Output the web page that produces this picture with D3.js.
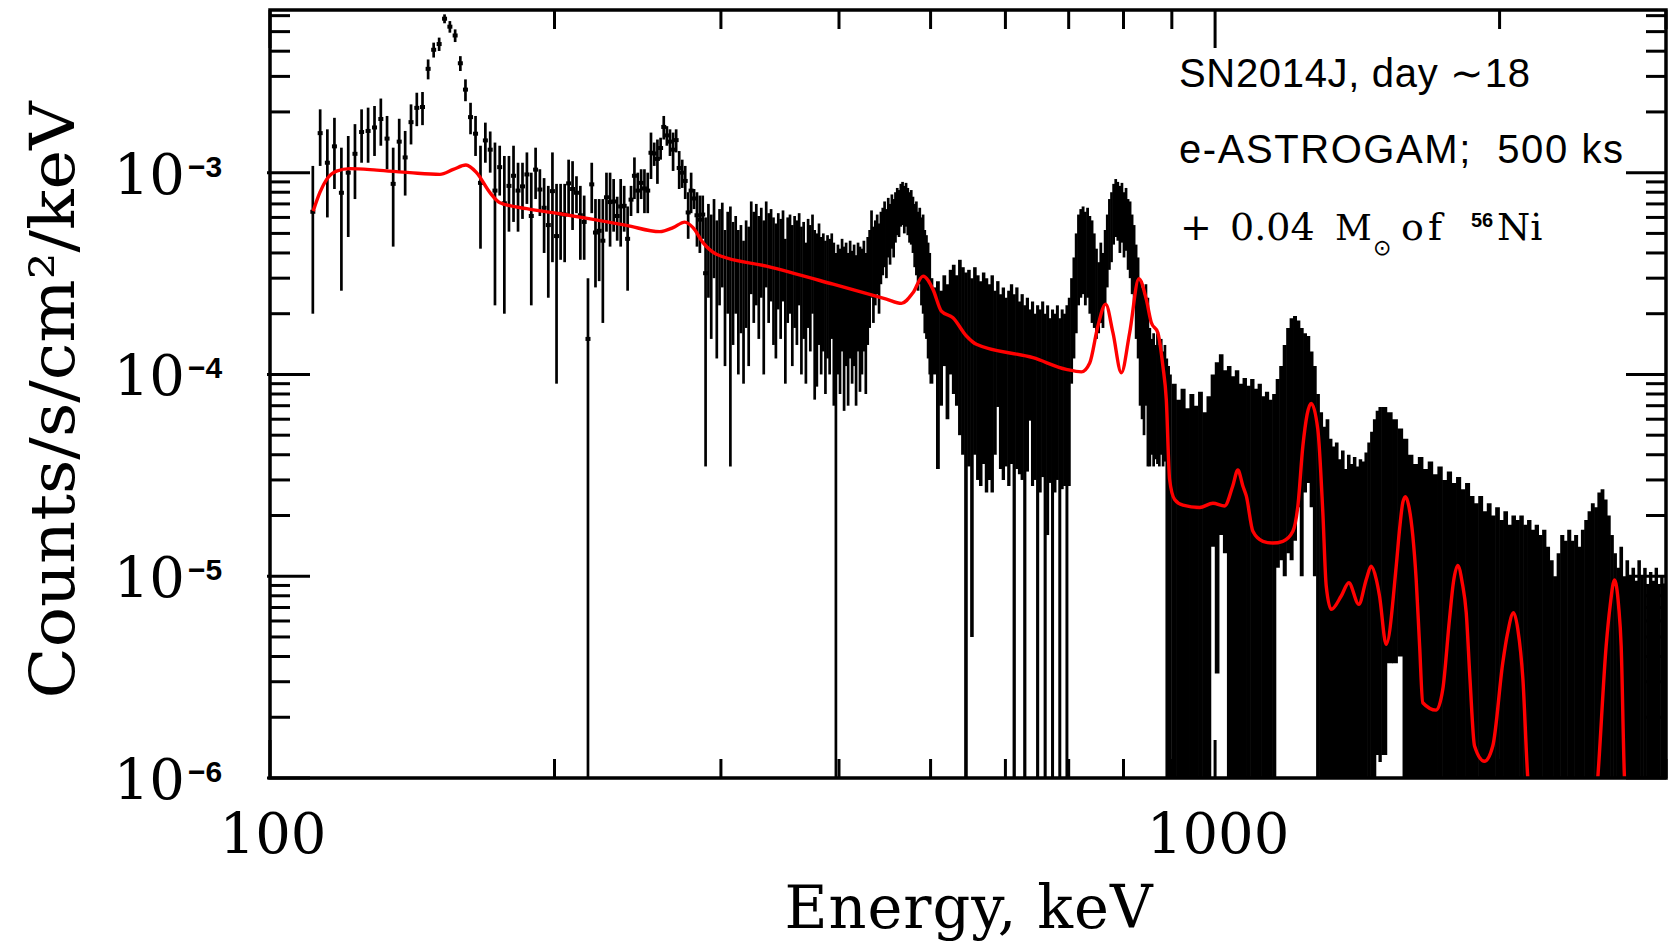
<!DOCTYPE html>
<html lang="en">
<head>
<meta charset="UTF-8">
<title>SN2014J, e-ASTROGAM spectrum</title>
<style>
  html, body { margin: 0; padding: 0; background: #fff; }
  svg { display: block; }
</style>
</head>
<body>
<svg id="chart" width="1671" height="941"></svg>
<script src="https://d3js.org/d3.v7.min.js"></script>
<script>
// simulated counts, rates in units of 1e-5 counts/s/cm2/keV
// each bin: [energy keV, top of error bar, bottom of error bar]
// a bottom of 0 means the bar runs off the bottom of the plot
var binsA = [ // 2 keV bins
  [111,108,20],[113,206,108],[115,164,60],[117,187,83],[119,133,26],[121,152,48],[123,174,74],[125,206,112],
  [127,210,112],[129,214,121],[131,233,136],[133,191,104],[135,133,43],[137,185,100],[139,161,77],[141,218,138],
  [143,249,170],[145,251,172],[147,364,290],[149,441,372],[151,467,401],[153,609,550],[155,564,494],[157,513,444],
  [159,378,319],[161,290,226],[163,222,155],[165,191,121],[167,136,42],[169,177,112],[171,160,100],[173,141,22],
  [175,136,77],[177,121,20],[179,121,51],[181,136,57],[183,112,51],[185,112,59],[187,126,70],[189,100,22],
  [191,133,74],[193,104,61],[195,94,40],[197,86,24],[199,126,36],[201,88,9],[203,88,37],[205,88,36],
  [207,116,61],[209,114,52],[211,96,63],[213,86,37],[215,77,37],[217,30,0],[219,112,63],[221,74,27],
  [223,74,29],[225,74,18],[227,100,51],[229,100,43],[231,93,51],[233,76,46],[235,93,43],[237,86,51],
  [239,68,26],[241,86,61],[243,119,74],[245,100,63],[247,104,74],[249,104,63],[251,100,63],[253,158,93],
  [255,141,108],[257,146,88],[259,149,116],[261,191,146],[263,170,136],[265,164,121],[267,158,102],[269,164,126],
  [271,128,83],[273,116,84],[275,108,74],[277,80,47],[279,100,63],[281,83,66],[283,80,43],[285,77,40],
  [287,77,47],[289,60,3.5]
];
var binsB = [ // 2 keV bins
  [291,70,24],[293,62,15],[295,74,30],[297,58,12],[299,66,22],[301,71,27],[303,52,11],[305,64,20],[307,68,3.5],
  [309,57,14],[311,61,20],[313,52,10],[315,55,16],[317,46,9],[319,58,17],[321,54,11],[323,72,25],[325,64,18],
  [327,70,22],[329,61,15],[331,67,24],[333,58,10],[335,72,27],[337,63,18],[339,66,23],[341,60,14],[343,56,12],
  [345,63,21],[347,59,15],[349,65,23],[351,47,9],[353,60,18],[355,62,20],[357,55,11],[359,61,17],[361,58,14],
  [363,63,22],[365,54,10],[367,57,15],[369,45,9],[371,59,17],[373,55,13],[375,62,20],[377,52,7.5],[379,50,8.7],
  [381,56,14],[383,48,10],[385,50,13],[387,46,8],[389,49,12],[391,47,10],[393,50,15],[395,45,7],[397,40,0],
  [399,44,10],[401,42,8],[403,47,13],[405,43,6.6],[407,45,11],[409,40,7],[411,46,12],[413,41,9],[415,44,11],
  [417,39,7],[419,45,13],[421,43,8.2],[423,42,10],[425,46,13],[427,40,8],[429,48,14],[431,52,17],[433,65,24],
  [435,54,18],[437,58,22],[439,62,25],[441,56,20],[443,64,28],[445,67,31],[447,72,34],[449,66,30],[451,75,38],
  [453,70,35],[455,78,42],[457,74,38],[459,80,45],[461,84,49],[463,82,48],[465,88,54],[467,90,55],[469,86,50],
  [471,89,54],[473,84,49],[475,80,45],[477,82,44],[479,76,40],[481,70,34],[483,72,31],[485,64,26],[487,67,28],
  [489,60,22],[491,62,20],[493,52,16],[495,49,15],[497,45,12],[499,40,10]
];
var binsC = [ // 4 keV bins
  [501,30,9],[505,27,10],[509,29,3.4],[513,26,7],[517,31,11],[521,28,6],[525,33,10],[529,35,8],[533,31,7],
  [537,37,5],[541,34,4],[545,32,0],[549,33,3.5],[553,30,0.5],[557,34,4],[561,31,3],[565,29,2.8],[569,32,3.6],
  [573,30,2.6],[577,28,3],[581,31,2.6],[585,26,4],[589,29,6.9],[593,25,3.4],[597,27,3],[601,24,3.5],[605,26,2.8],
  [609,28,3.6],[613,25,0],[617,27,3.4],[621,23,3.2],[625,25,3],[629,22,0],[633,24,3.3],[637,21,5.9],[641,23,2.8],
  [645,20,3],[649,22,0],[653,21,2.6],[657,23,3.1],[661,20,0],[665,22,1.6],[669,19,2.9],[673,21,0],[677,20,2.6],
  [681,22,3],[685,19,0],[689,21,2.7],[693,20,2.8],[697,22,0],[701,24,2.8],[705,30,9],[709,38,12],[713,50,16],
  [717,62,22],[721,66,24],[725,68,25],[729,64,22],[733,67,24],[737,61,20],[741,58,18],[745,50,17],[749,42,15],
  [753,36,16],[757,45,18],[761,40,17],[765,52,22],[769,62,27],[773,74,33],[777,80,36],[781,88,44],[785,93,48],
  [789,90,46],[793,86,40],[797,89,45],[801,80,38],[805,84,41],[809,74,33],[813,72,30],[817,62,25],[821,55,22],
  [825,44,15],[829,38,12],[833,29,7],[837,27,6],[841,25,5],[845,28,7],[849,24,3.5],[853,17,3.5],[857,15,4],
  [861,16,3.5],[865,14,3.8],[869,16,3.6],[873,14,3.5],[877,15,4],[881,13,3.5],[885,14,3.7],[889,12,0],[893,11,0],
  [897,10,0]
];
var binsD = [ // 10 keV bins
  [905,9,0],[915,7.5,0],[925,8.5,0],[935,6.8,0],[945,8,0],[955,7,0],[965,8.2,0],[975,6.5,0],[985,7.8,0],
  [995,10,1.4],[1005,11.5,0.33],[1015,12.6,1.6],[1025,10.5,1.3],[1035,11,0],[1045,9.8,0],[1055,10.5,0],[1065,9,0],
  [1075,9.6,0],[1085,8.8,0],[1095,9.5,0],[1105,8.5,0],[1115,9,0],[1125,7.8,0],[1135,8.2,0],[1145,7.5,0],[1155,8,0],
  [1165,9.5,1.1],[1175,11,1.2],[1185,14,1.0],[1195,17,1.3],[1205,19,1.2],[1215,19.5,1.5],[1225,18.5,2.2],
  [1235,17,1.0],[1245,16,2.6],[1255,15.5,2.9],[1265,13,2.2],[1275,11,1.0],[1285,8,0],[1295,6.5,0],[1305,5.5,0],
  [1315,6,0],[1325,4.8,0],[1335,4.4,0],[1345,4.6,0],[1355,3.8,0],[1365,4.2,0],[1375,3.4,0],[1385,4.0,0],
  [1395,3.6,0],[1405,3.9,0],[1415,3.5,0],[1425,3.8,0],[1435,3.7,0],[1445,4.1,0],[1455,4.6,0],[1465,5.2,0],
  [1475,6.0,0],[1485,6.6,0.13],[1495,6.9,0.12]
];
var binsE = [ // 20 keV bins
  [1510,6.9,0.13],[1530,6.5,0.37],[1550,6.0,0.37],[1570,5.4,0.4],[1590,4.8,0],[1610,4.0,0],[1630,3.6,0],
  [1650,3.9,0],[1670,3.4,0],[1690,3.7,0],[1710,3.2,0],[1730,3.5,0],[1750,3.0,0],[1770,3.3,0],[1790,2.9,0],
  [1810,3.1,0],[1830,2.7,0],[1850,2.9,0],[1870,2.5,0],[1890,2.3,0],[1910,2.5,0],[1930,2.1,0],[1950,2.3,0],
  [1970,2.0,0],[1990,2.2,0],[2010,1.9,0],[2030,2.1,0],[2050,1.8,0],[2070,2.0,0],[2090,1.9,0],[2110,2.0,0],
  [2130,1.8,0],[2150,1.9,0],[2170,1.7,0],[2190,1.8,0],[2210,1.6,0],[2230,1.7,0],[2250,1.4,0],[2270,1.2,0],
  [2290,1.0,0],[2310,1.3,0],[2330,1.6,0],[2350,1.5,0],[2370,1.7,0],[2390,1.5,0],[2410,1.6,0],[2430,1.4,0],
  [2450,1.7,0],[2470,1.9,0],[2490,2.1,0],[2510,2.3,0],[2530,2.2,0],[2550,2.6,0],[2570,2.7,0],[2590,2.4,0],
  [2610,2.0,0],[2630,1.6,0],[2650,1.3,0],[2670,1.1,0],[2690,1.4,0],[2710,1.0,0],[2730,1.2,0],[2750,1.0,0],
  [2770,1.1,0],[2790,0.95,0],[2810,1.2,0],[2830,1.0,0],[2850,1.1,0],[2870,0.9,0],[2890,1.05,0],[2910,0.95,0],
  [2930,1.1,0],[2950,0.9,0],[2970,1.0,0],[2990,0.92,0]
];

// model spectrum (red), same units
var modelE = [111.1,112.9,114.8,117.6,121.5,129.7,140.6,151.3,156.3,161.2,165.4,170.9,175.1,186.9,202.6,219.8,
  238.4,258.5,267.0,274.7,280.3,287.2,296.8,335.3,394.3,449.0,465.7,479.0,490.9,502.9,513.3,528.0,545.6,559.0,
  641.7,696.0,722.0,736.8,751.7,766.0,779.7,795.8,812.1,830.6,845.6,856.0,869.9,880.6,887.9,895.1,906.1,924.6,
  962.9,994.8,1023.5,1044,1057.1,1070,1079.0,1096.5,1123.6,1151.1,1179.6,1208.7,1223.5,1238.5,1263.9,1284.4,
  1300.2,1311.0,1327.1,1359.8,1385.1,1419.3,1445.5,1462.8,1481,1492.8,1517.3,1554.7,1567.5,1580,1590.2,1603,
  1619,1632.2,1646,1658.7,1713.9,1741.5,1770.2,1787,1806.5,1826,1843.9,1861,1881.6,1927.5,1967.2,2015.7,2040,
  2069.0,2091,2117,2142.1,2250,2450,2540.6,2593.0,2618,2646.0,2673,2689.6,2711.4,2800,3000];
var modelRate = [64.5,79.6,92.6,101.8,104.7,103.0,100,98.1,103.8,109.1,100,79.6,71.0,66.3,62.6,58.7,
  54.8,51.0,53.4,56.9,53.4,45.0,39.4,34.4,28.0,23.6,22.5,25.4,30.7,26.4,20.6,19.1,15.5,14.1,
  12.1,10.6,10.3,11.4,17.4,22.3,16.1,10.2,16.1,29.8,23.6,18.1,16.1,11.0,7.52,3.02,2.40,2.25,
  2.19,2.30,2.23,2.80,3.36,2.80,2.50,1.67,1.49,1.46,1.49,1.67,2.23,4.42,7.19,5.35,
  2.07,0.894,0.685,0.798,0.929,0.726,0.965,1.12,0.965,0.798,0.460,1.12,1.71,2.32,2.48,2.23,
  1.58,0.965,0.451,0.236,0.217,0.275,0.611,0.929,1.13,0.929,0.660,0.308,0.144,0.121,0.144,0.373,0.525,
  0.660,0.545,0.308,0.101,0.02,0.02,0.10,0.451,0.711,0.958,0.711,0.451,0.10,0.02,0.02];

var yMajor = [1e-6, 1e-5, 1e-4, 1e-3];
var yExponents = ["\u22126", "\u22125", "\u22124", "\u22123"];
var xMajor = [100, 1000];
var xLabels = ["100", "1000"];
var notes = ["SN2014J, day \u223C18", "e-ASTROGAM;  500 ks"];
var noteWidths = [351, 444];

var unit = 1e-5;
var svg = d3.select("#chart");
var x = d3.scaleLog().domain([100, 3000]).range([270, 1666]);
var y = d3.scaleLog().domain([1e-6, 6.4e-3]).range([778, 10]);
var x0 = x.range()[0], x1 = x.range()[1], yb = y.range()[0], yt = y.range()[1];

svg.append("defs").append("clipPath").attr("id", "plotClip")
  .append("rect").attr("x", x0).attr("y", yt).attr("width", x1 - x0).attr("height", yb - yt);

var plot = svg.append("g").attr("clip-path", "url(#plotClip)");

var segments = [
  { bins: binsA, width: 2, dots: true, fill: false },
  { bins: binsB, width: 2, dots: false, fill: false },
  { bins: binsC, width: 4, dots: false, fill: true },
  { bins: binsD, width: 10, dots: false, fill: true },
  { bins: binsE, width: 20, dots: false, fill: true }
];

function yPix(v) {
  if (v <= 0) return yb + 10;
  return Math.min(y(v * unit), yb + 10);
}

segments.forEach(function(seg) {
  var g = plot.append("g");
  g.selectAll("line")
    .data(seg.bins)
    .enter()
    .append("line")
    .attr("x1", function(d) { return x(d[0]); })
    .attr("x2", function(d) { return x(d[0]); })
    .attr("y1", function(d) { return yPix(d[1]); })
    .attr("y2", function(d) { return yPix(d[2]); })
    .attr("stroke", "#000")
    .attr("stroke-width", function(d) {
      if (!seg.fill) return 2.7;
      var w = x(d[0] + seg.width / 2) - x(d[0] - seg.width / 2);
      return Math.max(2.7, w + 0.6);
    });
  if (seg.dots) {
    g.selectAll("rect")
      .data(seg.bins)
      .enter()
      .append("rect")
      .attr("x", function(d) { return x(d[0]) - 2.5; })
      .attr("y", function(d) { return yPix((d[1] + d[2]) / 2) - 2; })
      .attr("width", 5)
      .attr("height", 4)
      .attr("fill", "#000");
  }
});

var model = modelE.map(function(e, i) { return [e, modelRate[i]]; });
var line = d3.line()
  .x(function(d) { return x(d[0]); })
  .y(function(d) { return y(d[1] * unit); })
  .curve(d3.curveMonotoneX);
plot.append("path")
  .datum(model)
  .attr("d", line)
  .attr("fill", "none")
  .attr("stroke", "#ff0000")
  .attr("stroke-width", 3.4)
  .attr("stroke-linejoin", "round");

// frame and ticks
var axes = svg.append("g").attr("stroke", "#000").attr("stroke-width", 3);
var yTicks = y.ticks().filter(function(v) { return v >= 1e-6 && v <= 6.4e-3; });
yTicks.forEach(function(v) {
  var major = yMajor.some(function(m) { return Math.abs(m - v) / m < 1e-6; });
  var len = major ? 40 : 20;
  axes.append("line").attr("x1", x0 - (major ? 3 : 0)).attr("x2", x0 + len).attr("y1", y(v)).attr("y2", y(v));
  axes.append("line").attr("x1", x1).attr("x2", x1 - len).attr("y1", y(v)).attr("y2", y(v));
});
var xTicks = x.ticks().filter(function(v) { return v >= 100 && v <= 3000; });
xTicks.forEach(function(v) {
  var major = xMajor.indexOf(v) >= 0;
  var len = major ? 38 : 19;
  axes.append("line").attr("x1", x(v)).attr("x2", x(v)).attr("y1", yb).attr("y2", yb - len);
  axes.append("line").attr("x1", x(v)).attr("x2", x(v)).attr("y1", yt).attr("y2", yt + len);
});
svg.append("rect")
  .attr("x", x0).attr("y", yt).attr("width", x1 - x0).attr("height", yb - yt)
  .attr("fill", "none").attr("stroke", "#000").attr("stroke-width", 3.5);

// tick labels
var serif = "'DejaVu Serif', serif";
yMajor.forEach(function(v, i) {
  svg.append("text")
    .attr("x", 185).attr("y", y(v) + 21)
    .attr("text-anchor", "end")
    .attr("font-family", serif).attr("font-size", 56)
    .text("10");
  svg.append("text")
    .attr("x", 188).attr("y", y(v) + 4)
    .attr("font-family", "'Liberation Sans', Arial, sans-serif").attr("font-weight", "bold")
    .attr("font-size", 30)
    .text(yExponents[i]);
});
xMajor.forEach(function(v, i) {
  svg.append("text")
    .attr("x", x(v) + 3).attr("y", 853)
    .attr("text-anchor", "middle")
    .attr("font-family", serif).attr("font-size", 56)
    .text(xLabels[i]);
});

// axis titles
svg.append("text")
  .attr("x", 969).attr("y", 928)
  .attr("text-anchor", "middle")
  .attr("font-family", serif).attr("font-size", 59)
  .attr("letter-spacing", 1)
  .text("Energy, keV");
svg.append("text")
  .attr("transform", "translate(74,400) rotate(-90)")
  .attr("text-anchor", "middle")
  .attr("font-family", serif).attr("font-size", 62)
  .attr("textLength", 597).attr("lengthAdjust", "spacingAndGlyphs")
  .text("Counts/s/cm\u00b2/keV");

// notes
var sans = "'Liberation Sans', Arial, sans-serif";
notes.forEach(function(t, i) {
  svg.append("text")
    .attr("x", 1179).attr("y", 87 + i * 76)
    .attr("font-family", sans).attr("font-size", 40)
    .attr("textLength", noteWidths[i]).attr("lengthAdjust", "spacing")
    .style("white-space", "pre")
    .text(t);
});
var n3 = svg.append("g").attr("font-family", serif).attr("font-size", 38);
n3.append("text").attr("x", 1180).attr("y", 240).text("+");
n3.append("text").attr("x", 1230).attr("y", 240).text("0.04");
n3.append("text").attr("x", 1335).attr("y", 240).attr("font-size", 36).text("M");
n3.append("text").attr("x", 1373).attr("y", 255).attr("font-family", "'DejaVu Sans', sans-serif")
  .attr("font-size", 22).text("\u2299");
n3.append("text").attr("x", 1401).attr("y", 240).attr("letter-spacing", 4).text("of");
n3.append("text").attr("x", 1471).attr("y", 227).attr("font-family", sans).attr("font-weight", "bold")
  .attr("font-size", 20).text("56");
n3.append("text").attr("x", 1497).attr("y", 240).text("Ni");
</script>
</body>
</html>
